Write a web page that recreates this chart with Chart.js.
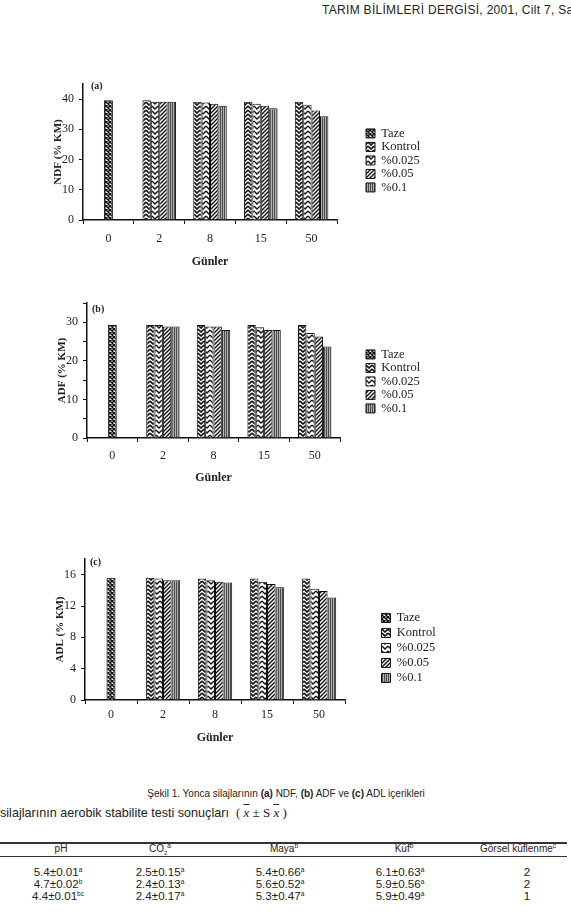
<!DOCTYPE html>
<html>
<head>
<meta charset="utf-8">
<script src="https://cdn.jsdelivr.net/npm/chart.js@4.4.0/dist/chart.umd.min.js"></script>
<style>
body { margin: 0; width: 571px; height: 917px; overflow: hidden; background: #fff; position: relative; font-family: 'Liberation Sans', Arial, sans-serif; color: #222; }
canvas { position: absolute; }
.t { position: absolute; white-space: nowrap; }
.c { transform: translateX(-50%); }
.lbl { font-family: 'Liberation Serif', serif; font-weight: bold; font-size: 10px; }
.hd { font-size: 10px; }
.row { font-size: 11.6px; }
sup { font-size: 6.5px; vertical-align: 4px; line-height: 0; }
.rule { position: absolute; left: 0; width: 567px; background: #333; }
</style>
</head>
<body>
<div class="t" style="left:322px;top:3px;font-size:12px;letter-spacing:0.3px;">TARIM BİLİMLERİ DERGİSİ, 2001, Cilt 7, Sayı 4</div>

<canvas id="chartA" width="405" height="200" style="left:50px;top:70px"></canvas>
<canvas id="chartB" width="401" height="199" style="left:54px;top:289px"></canvas>
<canvas id="chartC" width="417" height="205" style="left:52px;top:545px"></canvas>
<div class="t lbl" style="left:91px;top:80px">(a)</div>
<div class="t lbl" style="left:92px;top:303px">(b)</div>
<div class="t lbl" style="left:90px;top:556px">(c)</div>

<div class="t c" style="left:286px;top:788px;font-size:10px;">Şekil 1. Yonca silajlarının <b>(a)</b> NDF, <b>(b)</b> ADF ve <b>(c)</b> ADL içerikleri</div>
<div class="t" style="left:0px;top:805px;font-size:12.6px;">silajlarının aerobik stabilite testi sonuçları&nbsp; <span style="font-family:'Liberation Serif',serif;font-size:13px">( <i style="text-decoration:overline">x</i> ± S <i style="text-decoration:overline">x</i> )</span></div>
<div class="rule" style="top:842px;height:1.5px"></div>
<div class="rule" style="top:856px;height:1px"></div>
<div class="t c hd" style="left:61px;top:843px">pH</div>
<div class="t c hd" style="left:160px;top:843px">CO<sub style="font-size:6px">2</sub><sup>a</sup></div>
<div class="t c hd" style="left:284px;top:843px">Maya<sup>b</sup></div>
<div class="t c hd" style="left:404px;top:843px">Küf<sup>b</sup></div>
<div class="t c hd" style="left:518px;top:843px">Görsel küflenme<sup>c</sup></div>

<div class="t c row" style="left:58px;top:865px">5.4±0.01<sup>a</sup></div>
<div class="t c row" style="left:160px;top:865px">2.5±0.15<sup>a</sup></div>
<div class="t c row" style="left:280px;top:865px">5.4±0.66<sup>a</sup></div>
<div class="t c row" style="left:400px;top:865px">6.1±0.63<sup>a</sup></div>
<div class="t c row" style="left:527px;top:865px">2</div>
<div class="t c row" style="left:58px;top:877px">4.7±0.02<sup>b</sup></div>
<div class="t c row" style="left:160px;top:877px">2.4±0.13<sup>a</sup></div>
<div class="t c row" style="left:280px;top:877px">5.6±0.52<sup>a</sup></div>
<div class="t c row" style="left:400px;top:877px">5.9±0.56<sup>a</sup></div>
<div class="t c row" style="left:527px;top:877px">2</div>
<div class="t c row" style="left:58px;top:889px">4.4±0.01<sup>bc</sup></div>
<div class="t c row" style="left:160px;top:889px">2.4±0.17<sup>a</sup></div>
<div class="t c row" style="left:280px;top:889px">5.3±0.47<sup>a</sup></div>
<div class="t c row" style="left:400px;top:889px">5.9±0.49<sup>a</sup></div>
<div class="t c row" style="left:527px;top:889px">1</div>

<script>
var gunler = ['0', '2', '8', '15', '50']
var seriesNames = ['Taze', 'Kontrol', '%0.025', '%0.05', '%0.1']

// NDF (% KM)
var ndfTaze    = [39.6, null, null, null, null]
var ndfKontrol = [null, 39.6, 39.1, 39.1, 39.1]
var ndf0025    = [null, 39.1, 38.9, 38.5, 38.1]
var ndf005     = [null, 39.1, 38.5, 37.8, 36.2]
var ndf01      = [null, 39.1, 37.8, 37.0, 34.3]

// ADF (% KM)
var adfTaze    = [29.3, null, null, null, null]
var adfKontrol = [null, 29.3, 29.3, 29.3, 29.3]
var adf0025    = [null, 29.3, 28.9, 28.7, 27.2]
var adf005     = [null, 28.9, 28.9, 28.0, 26.3]
var adf01      = [null, 28.9, 28.0, 28.0, 23.7]

// ADL (% KM)
var adlTaze    = [15.6, null, null, null, null]
var adlKontrol = [null, 15.6, 15.5, 15.5, 15.5]
var adl0025    = [null, 15.5, 15.3, 15.1, 14.2]
var adl005     = [null, 15.3, 15.1, 14.8, 13.9]
var adl01      = [null, 15.3, 15.0, 14.4, 13.1]

Chart.defaults.font.family = "'Liberation Serif', serif"
Chart.defaults.color = '#222'

function pattern(bg, w, h, draw) {
      var c = document.createElement('canvas')
      c.width = w
      c.height = h
      var g = c.getContext('2d')
      g.fillStyle = bg
      g.fillRect(0, 0, w, h)
      g.strokeStyle = '#111'
      g.fillStyle = '#111'
      g.lineWidth = 1
      draw(g)
      return g.createPattern(c, 'repeat')
}

var fills = [
      // Taze: dense cross hatch
      pattern('#fff', 4, 4, function (g) {
            g.lineWidth = 1.5
            g.beginPath()
            g.moveTo(0, 0); g.lineTo(4, 4)
            g.moveTo(4, 0); g.lineTo(0, 4)
            g.stroke()
      }),
      // Kontrol: dark zigzag
      pattern('#fff', 6, 4, function (g) {
            g.lineWidth = 1.6
            g.beginPath()
            g.moveTo(0, 0); g.lineTo(3, 3); g.lineTo(6, 0)
            g.moveTo(0, 4); g.lineTo(3, 7); g.lineTo(6, 4)
            g.moveTo(0, -4); g.lineTo(3, -1); g.lineTo(6, -4)
            g.stroke()
      }),
      // %0.025: lighter zigzag
      pattern('#fff', 6, 5, function (g) {
            g.lineWidth = 1.3
            g.beginPath()
            g.moveTo(0, 1); g.lineTo(3, 4); g.lineTo(6, 1)
            g.moveTo(0, 6); g.lineTo(3, 9); g.lineTo(6, 6)
            g.moveTo(0, -4); g.lineTo(3, -1); g.lineTo(6, -4)
            g.stroke()
      }),
      // %0.05: diagonal lines
      pattern('#fff', 4, 4, function (g) {
            g.lineWidth = 1.4
            g.beginPath()
            g.moveTo(0, 4); g.lineTo(4, 0)
            g.moveTo(-1, 1); g.lineTo(1, -1)
            g.moveTo(3, 5); g.lineTo(5, 3)
            g.stroke()
      }),
      // %0.1: grey with vertical lines
      pattern('#b0b0b0', 2, 2, function (g) {
            g.fillStyle = '#4a4a4a'
            g.fillRect(0, 0, 1, 2)
      })
]

// keep the legend a fixed width so the plot area lands where it should
var fixLegend = {
      id: 'fixLegend',
      afterInit: function (chart) {
            var lg = chart.legend
            var fit = lg.fit.bind(lg)
            lg.fit = function () {
                  fit()
                  this.width = 90
            }
      }
}

function makeChart(id, values, yTitle, yMax, step, labelEvery, lay) {
      var datasets = values.map(function (v, i) {
            return {
                  label: seriesNames[i],
                  data: v,
                  backgroundColor: fills[i],
                  borderColor: '#111',
                  borderWidth: 1,
                  skipNull: true,
                  categoryPercentage: 0.66,
                  barPercentage: 1.0,
                  maxBarThickness: 9
            }
      })
      return new Chart(document.getElementById(id), {
            type: 'bar',
            data: { labels: gunler, datasets: datasets },
            plugins: [fixLegend],
            options: {
                  animation: false,
                  responsive: false,
                  devicePixelRatio: 1,
                  layout: { padding: { top: 14, left: 0, right: 0, bottom: 0 } },
                  plugins: {
                        tooltip: { enabled: false },
                        legend: {
                              position: 'right',
                              align: 'start',
                              fullSize: false,
                              title: { display: true, text: '', font: { size: 1 }, padding: { top: lay.legendTop, bottom: 0 } },
                              labels: { boxWidth: 9, boxHeight: 9, padding: lay.legendPad, color: '#222', font: { size: 12.5 } }
                        }
                  },
                  scales: {
                        x: {
                              afterFit: function (s) { s.height = 50 },
                              border: { color: '#111', width: 1.5 },
                              grid: { drawOnChartArea: false, tickLength: 4, color: '#111' },
                              ticks: { padding: lay.tickPad, color: '#222', font: { size: 12 } },
                              title: { display: true, text: 'Günler', color: '#222', font: { size: 12, weight: 'bold' }, padding: { top: 0, bottom: lay.titlePad } }
                        },
                        y: {
                              min: 0,
                              max: yMax,
                              afterFit: function (s) { s.width = 33 },
                              border: { color: '#111', width: 1.5 },
                              grid: { drawOnChartArea: false, tickLength: 4, color: '#111' },
                              ticks: {
                                    stepSize: step,
                                    padding: 5,
                                    color: '#222',
                                    font: { size: 12 },
                                    callback: function (v) { return v % labelEvery === 0 ? v : '' }
                              },
                              title: { display: true, text: yTitle, color: '#222', font: { size: 11, weight: 'bold' }, padding: { top: 2, bottom: 0 } }
                        },
                        gap: {
                              type: 'linear',
                              position: 'right',
                              afterFit: function (s) { s.width = lay.gap },
                              grid: { display: false, drawTicks: false },
                              border: { display: false },
                              ticks: { display: false }
                        }
                  }
            }
      })
}

makeChart('chartA', [ndfTaze, ndfKontrol, ndf0025, ndf005, ndf01], 'NDF (% KM)', 45, 5, 10,
      { gap: 28, legendTop: 41, legendPad: 1, tickPad: 8, titlePad: 1 })
makeChart('chartB', [adfTaze, adfKontrol, adf0025, adf005, adf01], 'ADF (% KM)', 35, 5, 10,
      { gap: 25, legendTop: 43, legendPad: 1, tickPad: 7, titlePad: 3 })
makeChart('chartC', [adlTaze, adlKontrol, adl0025, adl005, adl01], 'ADL (% KM)', 18, 2, 4,
      { gap: 34, legendTop: 49, legendPad: 2.5, tickPad: 4, titlePad: 5 })
</script>
</body>
</html>
